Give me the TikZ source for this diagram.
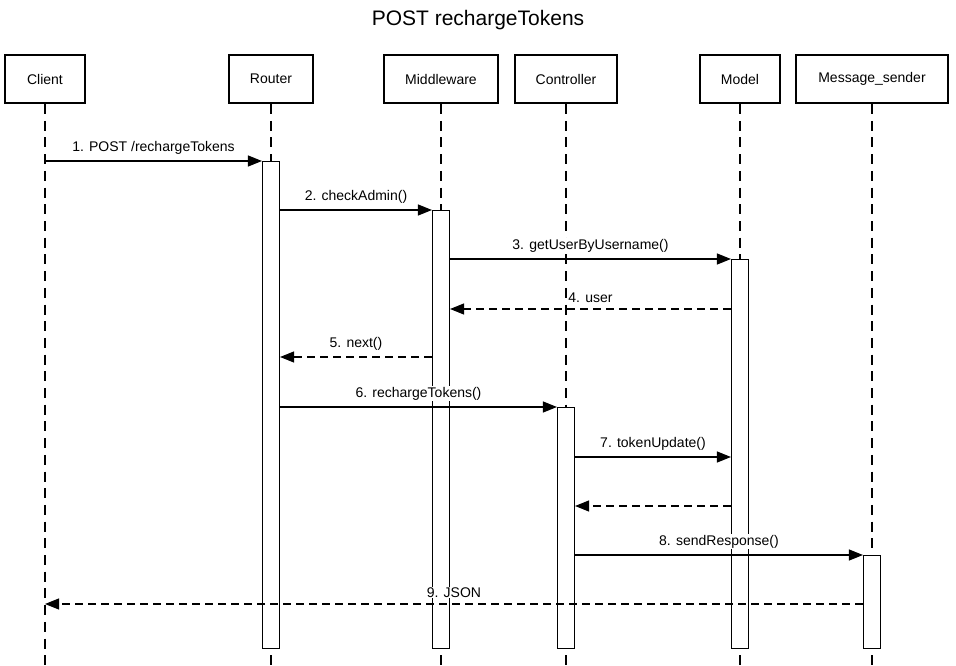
\documentclass[tikz,border=0pt]{standalone}
\usepackage{fontspec}
\setmainfont{Liberation Sans}
\usetikzlibrary{arrows.meta}
\begin{document}
\begin{tikzpicture}[x=1pt,y=-1pt,
  actor/.style={draw,line width=2.2pt,minimum height=48pt,inner sep=0pt,font=\fontsize{14}{16}\selectfont},
  lifeline/.style={line width=1.1pt,dash pattern=on 10pt off 6.7pt},
  bar/.style={draw,fill=white,line width=1.1pt,minimum width=17pt,minimum height=487pt,anchor=north,inner sep=0pt},
  msg/.style={line width=1.1pt,-{Triangle[length=14pt,width=11pt]}},
  ret/.style={msg,dash pattern=on 8pt off 5pt},
  lbl/.style={fill=white,inner sep=1pt,font=\fontsize{14}{16}\selectfont,anchor=south}
]
\useasboundingbox (0,0) rectangle (956,666);
\node[font=\fontsize{21}{24}\selectfont] (title) at (478,20) {POST rechargeTokens};

\node[actor,minimum width=80pt] (client) at (45,79) {Client};
\node[actor,minimum width=84pt] (router) at (271,79) {Router};
\node[actor,minimum width=114pt] (middle) at (441,79) {Middleware};
\node[actor,minimum width=102pt] (ctrl) at (566,79) {Controller};
\node[actor,minimum width=80pt] (model) at (740,79) {Model};
\node[actor,minimum width=152pt] (sender) at (872,79) {Message\_sender};

\foreach \n in {client,router,middle,ctrl,model,sender}
  \coordinate (\n end) at (\n.south |- 0,666);
\foreach \n in {client,router,middle,ctrl,model,sender}
  \draw[lifeline] (\n.south) -- (\n end);

\node[bar] (rbar) at (271,161) {};
\node[bar,minimum height=438pt] (mbar) at (441,210) {};
\node[bar,minimum height=389pt] (modbar) at (740,259) {};
\node[bar,minimum height=241pt] (cbar) at (566,407) {};
\node[bar,minimum height=93pt] (sbar) at (872,555) {};

\coordinate (y4) at (0,309);
\coordinate (y5) at (0,357);
\coordinate (y7) at (0,457);
\coordinate (y8) at (0,506);
\coordinate (y10) at (0,604);

\draw[msg] (client.south |- rbar.north) -- node[lbl,yshift=5pt] {1. POST /rechargeTokens} (rbar.north west);
\draw[msg] (rbar.east |- mbar.north) -- node[lbl,yshift=5pt] {2. checkAdmin()} (mbar.north west);
\draw[msg] (mbar.east |- modbar.north) -- node[lbl,yshift=5pt] {3. getUserByUsername()} (modbar.north west);
\draw[ret] (modbar.west |- y4) -- node[lbl,yshift=5pt] {4. user} (mbar.east |- y4);
\draw[ret] (mbar.west |- y5) -- node[lbl,yshift=5pt] {5. next()} (rbar.east |- y5);
\draw[msg] (rbar.east |- cbar.north) -- node[lbl,yshift=5pt] {6. rechargeTokens()} (cbar.north west);
\draw[msg] (cbar.east |- y7) -- node[lbl,yshift=5pt] {7. tokenUpdate()} (modbar.west |- y7);
\draw[ret] (modbar.west |- y8) -- (cbar.east |- y8);
\draw[msg] (cbar.east |- sbar.north) -- node[lbl,yshift=5pt] {8. sendResponse()} (sbar.north west);
\draw[ret] (sbar.west |- y10) -- node[lbl,yshift=5pt] {9. JSON} (client.south |- y10);
\end{tikzpicture}
\end{document}
